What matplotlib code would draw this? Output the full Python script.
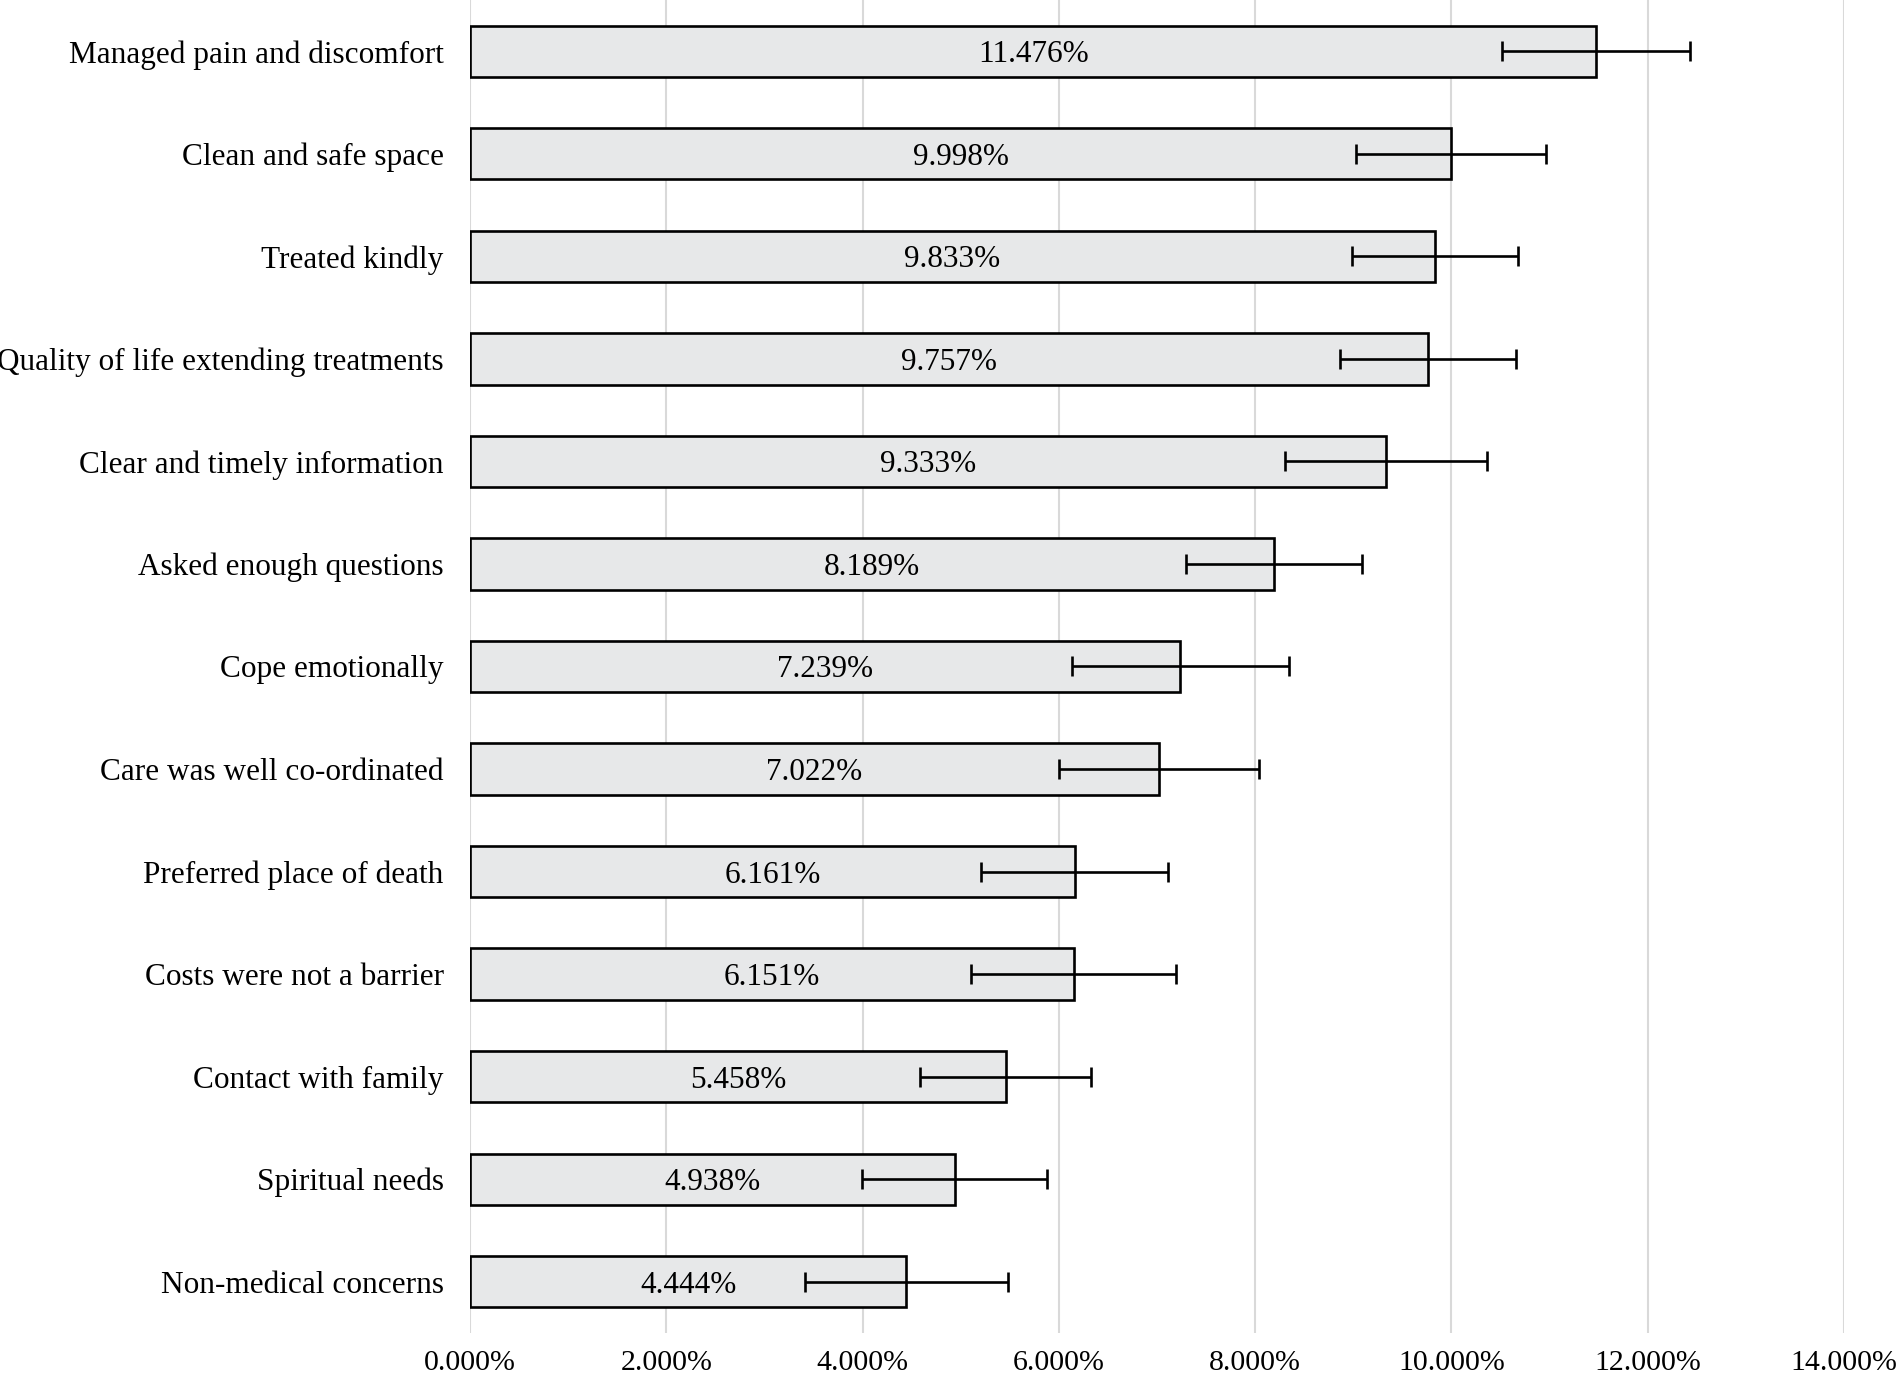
import matplotlib
matplotlib.use("Agg")
import matplotlib.pyplot as plt
from matplotlib.ticker import FuncFormatter

# data, top to bottom as in the chart
labels = ["Managed pain and discomfort", "Clean and safe space", "Treated kindly",
          "Quality of life extending treatments", "Clear and timely information",
          "Asked enough questions", "Cope emotionally", "Care was well co-ordinated",
          "Preferred place of death", "Costs were not a barrier", "Contact with family",
          "Spiritual needs", "Non-medical concerns"]
values = [11.476, 9.998, 9.833, 9.757, 9.333, 8.189, 7.239, 7.022, 6.161, 6.151, 5.458, 4.938, 4.444]
errors = [0.957, 0.97, 0.85, 0.897, 1.03, 0.897, 1.107, 1.02, 0.95, 1.045, 0.868, 0.94, 1.035]
xticks = [0, 2, 4, 6, 8, 10, 12, 14]

plt.rcParams['font.family'] = ['Liberation Serif', 'DejaVu Serif']

fig = plt.figure(figsize=(19, 13.81), dpi=100)
ax = fig.add_axes([0.2474, 0.0348, 0.9705 - 0.2474, 1 - 0.0348])

ypos = list(range(len(labels)))
ax.barh(ypos, values, height=0.5, color="#e7e8e9", edgecolor="black", linewidth=1.9, zorder=2)
ax.errorbar(values, ypos, xerr=errors, fmt="none", ecolor="black", elinewidth=1.9,
            capsize=7, capthick=1.9, zorder=3)

for y, v in zip(ypos, values):
    ax.text(v / 2, y, "%.3f%%" % v, ha="center", va="center_baseline", fontsize=22.5, zorder=4)

ax.set_yticks(ypos)
ax.set_yticklabels(labels, fontsize=22.5)
ax.set_ylim(len(labels) - 0.5, -0.5)
ax.set_xlim(0, 14)
ax.set_xticks(xticks)
ax.xaxis.set_major_formatter(FuncFormatter(lambda x, p: "%.3f%%" % x))
ax.tick_params(axis="x", labelsize=21.5, length=0, pad=12)
ax.tick_params(axis="y", length=0, pad=19)
ax.grid(axis="x", color="#d9d9d9", linewidth=1.5, zorder=0)
ax.set_axisbelow(True)
for s in ax.spines.values():
    s.set_visible(False)

fig.savefig("out.png", dpi=100)
